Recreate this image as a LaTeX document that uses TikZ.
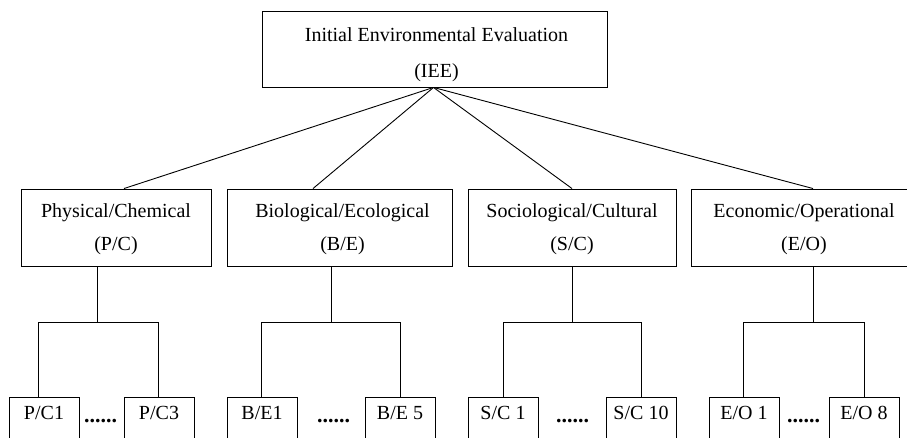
\documentclass[tikz,border=0pt]{standalone}
\usepackage{fontspec}
\setmainfont{Liberation Serif}
\begin{document}
\begin{tikzpicture}[x=1pt,y=-1pt,
  box/.style={draw, line width=0.9pt, inner sep=0pt},
  toplbl/.style={font=\fontsize{20}{36}\selectfont, align=center, inner sep=0pt},
  midlbl/.style={font=\fontsize{20}{33}\selectfont, align=center, inner sep=0pt},
  midbox/.style={box, minimum height=77pt},
  leaf/.style={box, anchor=north, minimum width=70pt, minimum height=48pt,
    font=\fontsize{20}{24}\selectfont, text height=14pt, text depth=18.6pt},
  dotrow/.style={font=\fontsize{22}{22}\selectfont\bfseries, inner sep=0pt, anchor=base},
  wire/.style={line width=0.9pt}]
\useasboundingbox (0,0) rectangle (907,438);
\clip (0,0) rectangle (907,438);

% top
\node[box, minimum width=345pt, minimum height=76pt] (iee) at (434.5,49) {};
\node[toplbl] (ieet) at ([xshift=2pt,yshift=-5.7pt]iee.center) {Initial Environmental Evaluation\\(IEE)};

% middle
\node[midbox, minimum width=190pt] (pc) at (116,227.5) {};
\node[midlbl] (pct) at ([yshift=-1.7pt]pc.center) {Physical/Chemical\\(P/C)};
\node[midbox, minimum width=225pt] (be) at (339.5,227.5) {};
\node[midlbl] (bet) at ([xshift=3pt,yshift=-1.7pt]be.center) {Biological/Ecological\\(B/E)};
\node[midbox, minimum width=208pt] (sc) at (572,227.5) {};
\node[midlbl] (sct) at ([yshift=-1.7pt]sc.center) {Sociological/Cultural\\(S/C)};
\node[midbox, minimum width=226pt] (eo) at (804,227.5) {};
\node[midlbl] (eot) at ([yshift=-1.7pt]eo.center) {Economic/Operational\\(E/O)};

% leaves
\node[leaf] (pc1) at (44,397) {P/C1};
\node[leaf] (pc3) at (159,397) {P/C3};
\node[leaf] (be1) at (262,397) {B/E1};
\node[leaf] (be5) at (400,397) {B/E 5};
\node[leaf] (sc1) at (503,397) {S/C 1};
\node[leaf] (sc10) at (641,397) {S/C 10};
\node[leaf] (eo1) at (744,397) {E/O 1};
\node[leaf] (eo8) at (864,397) {E/O 8};

% dots
\node[dotrow] (d1) at (100.5,422.5) {......};
\node[dotrow] (d2) at (333.5,422.5) {......};
\node[dotrow] (d3) at (572.5,422.5) {......};
\node[dotrow] (d4) at (803.5,422.5) {......};

% top connectors
\draw[wire] ([xshift=-1pt]iee.south) -- ([xshift=8pt]pc.north);
\draw[wire] ([xshift=-1pt]iee.south) -- ([xshift=-26.5pt]be.north);
\draw[wire] ([xshift=-1pt]iee.south) -- (sc.north);
\draw[wire] ([xshift=-1pt]iee.south) -- ([xshift=9pt]eo.north);

% group connectors
\draw[wire] ([xshift=-19pt]pc.south) -- ++(0,56) coordinate (pcj);
\draw[wire] ([xshift=-6pt]pc1.north) |- (pcj) -| ([xshift=-1pt]pc3.north);

\draw[wire] ([xshift=-8.5pt]be.south) -- ++(0,56) coordinate (bej);
\draw[wire] ([xshift=-1pt]be1.north) |- (bej) -| (be5.north);

\draw[wire] (sc.south) -- ++(0,56) coordinate (scj);
\draw[wire] (sc1.north) |- (scj) -| (sc10.north);

\draw[wire] ([xshift=9pt]eo.south) -- ++(0,56) coordinate (eoj);
\draw[wire] ([xshift=-1pt]eo1.north) |- (eoj) -| (eo8.north);
\end{tikzpicture}
\end{document}
